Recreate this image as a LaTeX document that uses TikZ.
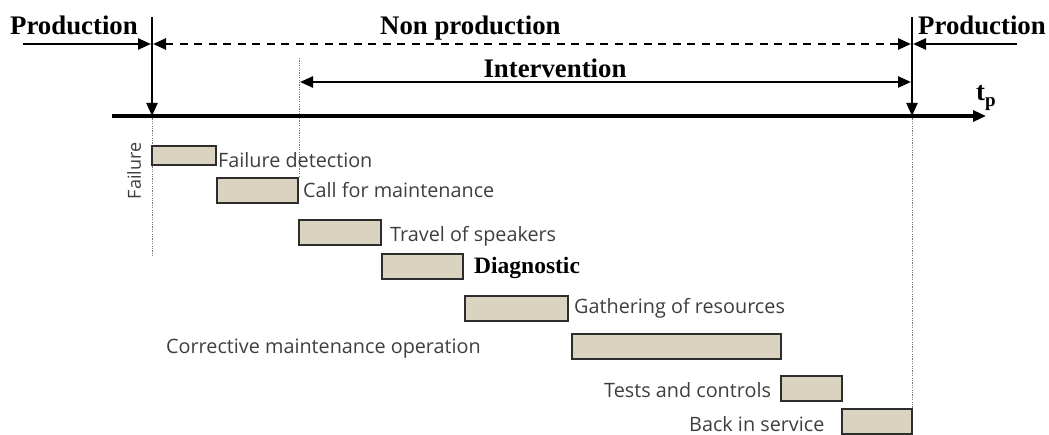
\documentclass[tikz,border=0pt]{standalone}
\usepackage{fontspec}
\setmainfont{Liberation Serif}
\newfontfamily\labelfont{Open Sans}
\usetikzlibrary{arrows.meta}
\definecolor{barfill}{RGB}{217,211,192}
\definecolor{barline}{RGB}{45,45,45}
\definecolor{labelgray}{RGB}{62,62,62}
\definecolor{guide}{RGB}{120,120,120}

\begin{document}
\begin{tikzpicture}[x=1pt,y=-1pt,
  head/.style={font=\bfseries\fontsize{26.8}{30}\selectfont, inner sep=0pt, anchor=base west},
  lbl/.style={font=\labelfont\fontsize{19.8}{22}\selectfont, text=labelgray, inner sep=0pt, anchor=west},
  bar/.style={draw=barline, line width=2pt, fill=barfill, anchor=north west, inner sep=0pt, outer sep=0pt},
  tipend/.style={-{Triangle[length=13pt,width=11pt]}},
  tipboth/.style={{Triangle[length=13pt,width=11pt]}-{Triangle[length=13pt,width=11pt]}},
  guideline/.style={guide, line width=1pt, dash pattern=on 1.2pt off 1.2pt}]
\useasboundingbox (0,0) rectangle (1049,435);

% key points of the time line
\coordinate (Ltop)   at (152,17);
\coordinate (Laxis)  at (152,116);
\coordinate (Rtop)   at (912,17);
\coordinate (Raxis)  at (912,116);
\coordinate (Lprod)  at (23,44);
\coordinate (Lmid)   at (151,44);
\coordinate (Lmid2)  at (153,44);
\coordinate (Rmid)   at (911,44);
\coordinate (Rmid2)  at (913,44);
\coordinate (Rprod)  at (1017,44);
\coordinate (Ileft)  at (300,82);
\coordinate (Iright) at (911,82);
\coordinate (axisL)  at (112,116);
\coordinate (axisR)  at (986,116);

% dotted guide lines
\coordinate (gA1) at (152,116); \coordinate (gA2) at (152,256);
\coordinate (gB1) at (299,58);  \coordinate (gB2) at (299,176);
\coordinate (gC1) at (912,116); \coordinate (gC2) at (912,435);
\draw[guideline] (gA1) -- (gA2);
\draw[guideline] (gB1) -- (gB2);
\draw[guideline] (gC1) -- (gC2);

% headings
\node[head] (prodL) at (10,35) {Production};
\node[head] (nonprod) at (380,35) {Non production};
\node[head] (prodR) at (918,35) {Production};
\node[head, anchor=base] (interv) at (555,78) {Intervention};
\node[head, anchor=base west] (tp) at (976,101) {t\raisebox{-6pt}{\fontsize{19}{20}\selectfont p}};

% time axis and arrows
\draw[tipend, line width=3.4pt] (axisL) -- (axisR);
\draw[tipend, line width=2pt] (Ltop) -- (Laxis);
\draw[tipend, line width=2pt] (Rtop) -- (Raxis);
\draw[tipend, line width=2.4pt] (Lprod) -- (Lmid);
\draw[tipend, line width=2.4pt] (Rprod) -- (Rmid2);
\draw[tipboth, line width=2.6pt, dash pattern=on 8pt off 6.5pt] (Lmid2) -- (Rmid);
\draw[tipboth, line width=2.4pt] (Ileft) -- (Iright);

% failure marker
\node[font=\labelfont\fontsize{18}{20}\selectfont, text=labelgray, rotate=90, inner sep=0pt] (fail) at (134,171) {Failure};

% task bars
\node[bar, minimum width=64pt, minimum height=19pt] (b1) at (152,146) {};
\node[bar, minimum width=81pt, minimum height=25pt] (b2) at (217,178) {};
\node[bar, minimum width=82pt, minimum height=25pt] (b3) at (299,220) {};
\node[bar, minimum width=81pt, minimum height=25pt] (b4) at (382,254) {};
\node[bar, minimum width=103pt, minimum height=25pt] (b5) at (465,296) {};
\node[bar, minimum width=209pt, minimum height=25pt] (b6) at (572,334) {};
\node[bar, minimum width=61pt, minimum height=25pt] (b7) at (781,376) {};
\node[bar, minimum width=70pt, minimum height=25pt] (b8) at (842,409) {};

% task labels
\node[lbl] (t1) at (218,160) {Failure detection};
\node[lbl] (t2) at (303,190) {Call for maintenance};
\node[lbl] (t3) at (390,236) {Travel of speakers};
\node[font=\bfseries\fontsize{23.5}{26}\selectfont, inner sep=0pt, anchor=west] (t4) at (474,268) {Diagnostic};
\node[lbl] (t5) at (574,308) {Gathering of resources};
\node[lbl] (t6) at (166,349) {Corrective maintenance operation};
\node[lbl] (t7) at (604,390) {Tests and controls};
\node[lbl] (t8) at (689,424) {Back in service};
\end{tikzpicture}
\end{document}
